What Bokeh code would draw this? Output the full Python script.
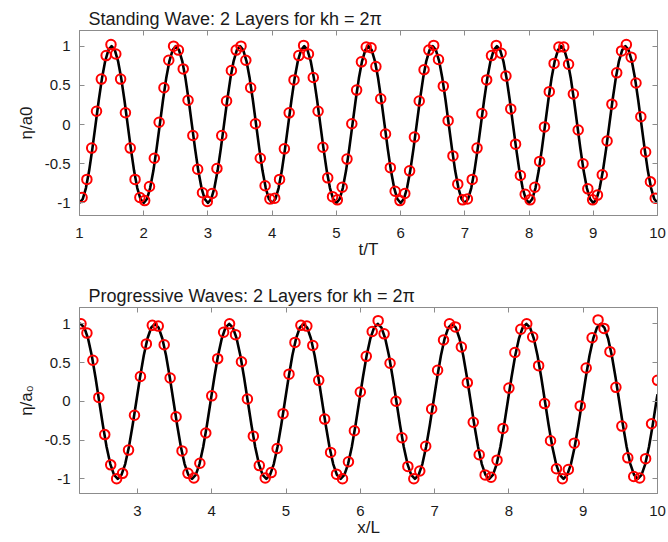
from bokeh.plotting import figure
from bokeh.layouts import column
from bokeh.models import LinearAxis, FixedTicker, Range1d, Title
from bokeh.embed import file_html
from bokeh.resources import INLINE

# ---------------- data: standing wave (top) ----------------
T_LINE = [
    1.00, 1.05, 1.10, 1.15, 1.20, 1.25, 1.30, 1.35, 1.40, 1.45, 1.50, 1.55, 1.60, 1.65, 1.70, 1.75, 1.80, 1.85, 1.90, 1.95,
    2.00, 2.05, 2.10, 2.15, 2.20, 2.25, 2.30, 2.35, 2.40, 2.45, 2.50, 2.55, 2.60, 2.65, 2.70, 2.75, 2.80, 2.85, 2.90, 2.95,
    3.00, 3.05, 3.10, 3.15, 3.20, 3.25, 3.30, 3.35, 3.40, 3.45, 3.50, 3.55, 3.60, 3.65, 3.70, 3.75, 3.80, 3.85, 3.90, 3.95,
    4.00, 4.05, 4.10, 4.15, 4.20, 4.25, 4.30, 4.35, 4.40, 4.45, 4.50, 4.55, 4.60, 4.65, 4.70, 4.75, 4.80, 4.85, 4.90, 4.95,
    5.00, 5.05, 5.10, 5.15, 5.20, 5.25, 5.30, 5.35, 5.40, 5.45, 5.50, 5.55, 5.60, 5.65, 5.70, 5.75, 5.80, 5.85, 5.90, 5.95,
    6.00, 6.05, 6.10, 6.15, 6.20, 6.25, 6.30, 6.35, 6.40, 6.45, 6.50, 6.55, 6.60, 6.65, 6.70, 6.75, 6.80, 6.85, 6.90, 6.95,
    7.00, 7.05, 7.10, 7.15, 7.20, 7.25, 7.30, 7.35, 7.40, 7.45, 7.50, 7.55, 7.60, 7.65, 7.70, 7.75, 7.80, 7.85, 7.90, 7.95,
    8.00, 8.05, 8.10, 8.15, 8.20, 8.25, 8.30, 8.35, 8.40, 8.45, 8.50, 8.55, 8.60, 8.65, 8.70, 8.75, 8.80, 8.85, 8.90, 8.95,
    9.00, 9.05, 9.10, 9.15, 9.20, 9.25, 9.30, 9.35, 9.40, 9.45, 9.50, 9.55, 9.60, 9.65, 9.70, 9.75, 9.80, 9.85, 9.90, 9.95,
    10.00,
]
ETA_STANDING_LINE = [
    -1.00, -0.95, -0.81, -0.59, -0.31, 0.00, 0.31, 0.59, 0.81, 0.95, 1.00, 0.95, 0.81, 0.59, 0.31, 0.00, -0.31, -0.59, -0.81, -0.95,
    -1.00, -0.95, -0.81, -0.59, -0.31, 0.00, 0.31, 0.59, 0.81, 0.95, 1.00, 0.95, 0.81, 0.59, 0.31, 0.00, -0.31, -0.59, -0.81, -0.95,
    -1.00, -0.95, -0.81, -0.59, -0.31, 0.00, 0.31, 0.59, 0.81, 0.95, 1.00, 0.95, 0.81, 0.59, 0.31, 0.00, -0.31, -0.59, -0.81, -0.95,
    -1.00, -0.95, -0.81, -0.59, -0.31, 0.00, 0.31, 0.59, 0.81, 0.95, 1.00, 0.95, 0.81, 0.59, 0.31, 0.00, -0.31, -0.59, -0.81, -0.95,
    -1.00, -0.95, -0.81, -0.59, -0.31, 0.00, 0.31, 0.59, 0.81, 0.95, 1.00, 0.95, 0.81, 0.59, 0.31, 0.00, -0.31, -0.59, -0.81, -0.95,
    -1.00, -0.95, -0.81, -0.59, -0.31, 0.00, 0.31, 0.59, 0.81, 0.95, 1.00, 0.95, 0.81, 0.59, 0.31, 0.00, -0.31, -0.59, -0.81, -0.95,
    -1.00, -0.95, -0.81, -0.59, -0.31, 0.00, 0.31, 0.59, 0.81, 0.95, 1.00, 0.95, 0.81, 0.59, 0.31, 0.00, -0.31, -0.59, -0.81, -0.95,
    -1.00, -0.95, -0.81, -0.59, -0.31, 0.00, 0.31, 0.59, 0.81, 0.95, 1.00, 0.95, 0.81, 0.59, 0.31, 0.00, -0.31, -0.59, -0.81, -0.95,
    -1.00, -0.95, -0.81, -0.59, -0.31, 0.00, 0.31, 0.59, 0.81, 0.95, 1.00, 0.95, 0.81, 0.59, 0.31, 0.00, -0.31, -0.59, -0.81, -0.95,
    -1.00,
]
T_PTS = [
    1.04, 1.115, 1.19, 1.265, 1.34, 1.415, 1.49, 1.565, 1.64, 1.715, 1.79, 1.865, 1.94, 2.015, 2.09, 2.165, 2.24, 2.315, 2.39, 2.465,
    2.54, 2.615, 2.69, 2.765, 2.84, 2.915, 2.99, 3.065, 3.14, 3.215, 3.29, 3.365, 3.44, 3.515, 3.59, 3.665, 3.74, 3.815, 3.89, 3.965,
    4.04, 4.115, 4.19, 4.265, 4.34, 4.415, 4.49, 4.565, 4.64, 4.715, 4.79, 4.865, 4.94, 5.015, 5.09, 5.165, 5.24, 5.315, 5.39, 5.465,
    5.54, 5.615, 5.69, 5.765, 5.84, 5.915, 5.99, 6.065, 6.14, 6.215, 6.29, 6.365, 6.44, 6.515, 6.59, 6.665, 6.74, 6.815, 6.89, 6.965,
    7.04, 7.115, 7.19, 7.265, 7.34, 7.415, 7.49, 7.565, 7.64, 7.715, 7.79, 7.865, 7.94, 8.015, 8.09, 8.165, 8.24, 8.315, 8.39, 8.465,
    8.54, 8.615, 8.69, 8.765, 8.84, 8.915, 8.99, 9.065, 9.14, 9.215, 9.29, 9.365, 9.44, 9.515, 9.59, 9.665, 9.74, 9.815, 9.89, 9.965,
]
ETA_STANDING_PTS = [
    -0.93, -0.70, -0.30, 0.17, 0.58, 0.88, 1.02, 0.90, 0.58, 0.15, -0.30, -0.70, -0.93, -0.97, -0.79, -0.43, 0.03, 0.47, 0.82, 1.00,
    0.95, 0.71, 0.31, -0.14, -0.57, -0.87, -0.98, -0.88, -0.56, -0.14, 0.30, 0.69, 0.95, 1.00, 0.82, 0.47, 0.01, -0.43, -0.78, -0.95,
    -0.94, -0.70, -0.31, 0.15, 0.57, 0.88, 1.01, 0.90, 0.60, 0.17, -0.29, -0.68, -0.92, -0.96, -0.80, -0.44, 0.01, 0.44, 0.80, 0.99,
    0.98, 0.74, 0.33, -0.12, -0.55, -0.85, -0.97, -0.88, -0.59, -0.16, 0.30, 0.70, 0.95, 1.01, 0.83, 0.49, 0.05, -0.40, -0.76, -0.96,
    -0.95, -0.70, -0.30, 0.14, 0.57, 0.88, 1.01, 0.91, 0.62, 0.20, -0.25, -0.65, -0.89, -0.96, -0.80, -0.47, -0.03, 0.42, 0.78, 0.99,
    0.99, 0.77, 0.39, -0.07, -0.50, -0.82, -0.96, -0.90, -0.64, -0.21, 0.26, 0.66, 0.94, 1.02, 0.86, 0.53, 0.10, -0.35, -0.73, -0.94,
]

# ---------------- data: progressive waves (bottom) ----------------
X_LINE = [
    2.22,
    2.235, 2.285, 2.335, 2.385, 2.435, 2.485, 2.535, 2.585, 2.635, 2.685, 2.735, 2.785, 2.835, 2.885, 2.935, 2.985, 3.035, 3.085, 3.135, 3.185,
    3.235, 3.285, 3.335, 3.385, 3.435, 3.485, 3.535, 3.585, 3.635, 3.685, 3.735, 3.785, 3.835, 3.885, 3.935, 3.985, 4.035, 4.085, 4.135, 4.185,
    4.235, 4.285, 4.335, 4.385, 4.435, 4.485, 4.535, 4.585, 4.635, 4.685, 4.735, 4.785, 4.835, 4.885, 4.935, 4.985, 5.035, 5.085, 5.135, 5.185,
    5.235, 5.285, 5.335, 5.385, 5.435, 5.485, 5.535, 5.585, 5.635, 5.685, 5.735, 5.785, 5.835, 5.885, 5.935, 5.985, 6.035, 6.085, 6.135, 6.185,
    6.235, 6.285, 6.335, 6.385, 6.435, 6.485, 6.535, 6.585, 6.635, 6.685, 6.735, 6.785, 6.835, 6.885, 6.935, 6.985, 7.035, 7.085, 7.135, 7.185,
    7.235, 7.285, 7.335, 7.385, 7.435, 7.485, 7.535, 7.585, 7.635, 7.685, 7.735, 7.785, 7.835, 7.885, 7.935, 7.985, 8.035, 8.085, 8.135, 8.185,
    8.235, 8.285, 8.335, 8.385, 8.435, 8.485, 8.535, 8.585, 8.635, 8.685, 8.735, 8.785, 8.835, 8.885, 8.935, 8.985, 9.035, 9.085, 9.135, 9.185,
    9.235, 9.285, 9.335, 9.385, 9.435, 9.485, 9.535, 9.585, 9.635, 9.685, 9.735, 9.785, 9.835, 9.885, 9.935, 9.985,
    10.00,
]
ETA_PROGRESSIVE_LINE = [
    1.00,
    1.00, 0.95, 0.81, 0.59, 0.31, 0.00, -0.31, -0.59, -0.81, -0.95, -1.00, -0.95, -0.81, -0.59, -0.31, 0.00, 0.31, 0.59, 0.81, 0.95,
    1.00, 0.95, 0.81, 0.59, 0.31, 0.00, -0.31, -0.59, -0.81, -0.95, -1.00, -0.95, -0.81, -0.59, -0.31, 0.00, 0.31, 0.59, 0.81, 0.95,
    1.00, 0.95, 0.81, 0.59, 0.31, 0.00, -0.31, -0.59, -0.81, -0.95, -1.00, -0.95, -0.81, -0.59, -0.31, 0.00, 0.31, 0.59, 0.81, 0.95,
    1.00, 0.95, 0.81, 0.59, 0.31, 0.00, -0.31, -0.59, -0.81, -0.95, -1.00, -0.95, -0.81, -0.59, -0.31, 0.00, 0.31, 0.59, 0.81, 0.95,
    1.00, 0.95, 0.81, 0.59, 0.31, 0.00, -0.31, -0.59, -0.81, -0.95, -1.00, -0.95, -0.81, -0.59, -0.31, 0.00, 0.31, 0.59, 0.81, 0.95,
    1.00, 0.95, 0.81, 0.59, 0.31, 0.00, -0.31, -0.59, -0.81, -0.95, -1.00, -0.95, -0.81, -0.59, -0.31, 0.00, 0.31, 0.59, 0.81, 0.95,
    1.00, 0.95, 0.81, 0.59, 0.31, 0.00, -0.31, -0.59, -0.81, -0.95, -1.00, -0.95, -0.81, -0.59, -0.31, 0.00, 0.31, 0.59, 0.81, 0.95,
    1.00, 0.95, 0.81, 0.59, 0.31, 0.00, -0.31, -0.59, -0.81, -0.95, -1.00, -0.95, -0.81, -0.59, -0.31, 0.00,
    0.09,
]
X_PTS = [
    2.24, 2.32, 2.40, 2.48, 2.56, 2.64, 2.72, 2.80, 2.88, 2.96, 3.04, 3.12, 3.20, 3.28, 3.36, 3.44, 3.52, 3.60, 3.68, 3.76, 3.84, 3.92, 4.00, 4.08, 4.16,
    4.24, 4.32, 4.40, 4.48, 4.56, 4.64, 4.72, 4.80, 4.88, 4.96, 5.04, 5.12, 5.20, 5.28, 5.36, 5.44, 5.52, 5.60, 5.68, 5.76, 5.84, 5.92, 6.00, 6.08, 6.16,
    6.24, 6.32, 6.40, 6.48, 6.56, 6.64, 6.72, 6.80, 6.88, 6.96, 7.04, 7.12, 7.20, 7.28, 7.36, 7.44, 7.52, 7.60, 7.68, 7.76, 7.84, 7.92, 8.00, 8.08, 8.16,
    8.24, 8.32, 8.40, 8.48, 8.56, 8.64, 8.72, 8.80, 8.88, 8.96, 9.04, 9.12, 9.20, 9.28, 9.36, 9.44, 9.52, 9.60, 9.68, 9.76, 9.84, 9.92, 10.00,
]
ETA_PROGRESSIVE_PTS = [
    1.00, 0.88, 0.53, 0.05, -0.43, -0.82, -1.00, -0.93, -0.63, -0.18, 0.32, 0.74, 0.98, 0.97, 0.73, 0.30, -0.20, -0.64, -0.93, -0.99, -0.80, -0.41, 0.07, 0.55, 0.89,
    1.00, 0.86, 0.51, 0.03, -0.45, -0.83, -0.99, -0.92, -0.61, -0.16, 0.35, 0.76, 0.98, 0.97, 0.72, 0.27, -0.23, -0.66, -0.94, -1.00, -0.78, -0.38, 0.12, 0.58, 0.90,
    1.04, 0.87, 0.49, 0.00, -0.47, -0.84, -1.00, -0.90, -0.58, -0.10, 0.40, 0.79, 1.00, 0.96, 0.70, 0.24, -0.27, -0.69, -0.95, -0.98, -0.76, -0.35, 0.17, 0.63, 0.93,
    1.00, 0.83, 0.46, -0.03, -0.51, -0.87, -1.00, -0.88, -0.54, -0.06, 0.43, 0.82, 1.05, 0.94, 0.64, 0.18, -0.32, -0.73, -0.97, -0.99, -0.74, -0.29, 0.27,
]

X_TICKS_TOP = [1, 2, 3, 4, 5, 6, 7, 8, 9, 10]
X_TICKS_BOTTOM = [3, 4, 5, 6, 7, 8, 9, 10]
Y_TICKS = [-1, -0.5, 0, 0.5, 1]
Y_TICK_LABELS = {-1: "-1", -0.5: "-0.5", 0: "0", 0.5: "0.5", 1: "1"}

FONT = "Liberation Sans"
FRAME = "#8c8c8c"
TXT = "#1a1a1a"


def make(title, xr, yr, xticks, xlabel, ylabel, height, btop, bbot):
    p = figure(width=668, height=height, x_range=Range1d(*xr), y_range=Range1d(*yr),
               output_backend="svg", toolbar_location=None,
               min_border_left=79, min_border_right=11,
               min_border_top=btop, min_border_bottom=bbot)
    p.title = Title(text=title, text_font=FONT, text_font_size="18px",
                    text_font_style="normal", text_color=TXT, offset=9, standoff=4)
    p.xgrid.visible = False
    p.ygrid.visible = False
    p.outline_line_color = FRAME
    p.outline_line_width = 1

    p.xaxis.ticker = FixedTicker(ticks=xticks)
    p.yaxis.ticker = FixedTicker(ticks=Y_TICKS)
    p.yaxis.major_label_overrides = Y_TICK_LABELS
    p.xaxis.axis_label = xlabel
    p.yaxis.axis_label = ylabel
    for ax in (p.xaxis[0], p.yaxis[0]):
        ax.axis_line_color = FRAME
        ax.major_tick_line_color = FRAME
        ax.major_tick_in = 5
        ax.major_tick_out = 0
        ax.minor_tick_line_color = None
        ax.major_label_text_font = FONT
        ax.major_label_text_font_size = "15px"
        ax.major_label_text_color = TXT
        ax.axis_label_text_font = FONT
        ax.axis_label_text_font_size = "17px"
        ax.axis_label_text_font_style = "normal"
        ax.axis_label_text_color = TXT
    p.xaxis.major_label_standoff = 12
    p.xaxis.axis_label_standoff = -1
    p.yaxis.major_label_standoff = 9
    p.yaxis.axis_label_standoff = 6

    # mirrored inward ticks on the top and right edges (box style)
    for loc, ticks in (("above", xticks), ("right", Y_TICKS)):
        ax = LinearAxis(ticker=FixedTicker(ticks=ticks), major_tick_in=5, major_tick_out=0,
                        minor_tick_line_color=None, axis_line_color=FRAME,
                        major_tick_line_color=FRAME, major_label_text_font_size="0px",
                        major_label_text_color=None, major_label_standoff=0)
        p.add_layout(ax, loc)
    return p


p1 = make("Standing Wave: 2 Layers for kh = 2\u03c0", (1, 10), (-1.16, 1.2), X_TICKS_TOP,
          "t/T", "\u03b7/a0", 276, 30, 61)
p1.line(T_LINE, ETA_STANDING_LINE, line_color="black", line_width=2.6, line_join="round")
p1.scatter(T_PTS, ETA_STANDING_PTS, marker="circle", size=9.5, fill_color=None,
           line_color="#ff0000", line_width=2)

p2 = make("Progressive Waves: 2 Layers for kh = 2\u03c0", (2.22, 10), (-1.19, 1.21), X_TICKS_BOTTOM,
          "x/L", "\u03b7/a\u2080", 266, 31, 49)
p2.line(X_LINE, ETA_PROGRESSIVE_LINE, line_color="black", line_width=2.6, line_join="round")
p2.scatter(X_PTS, ETA_PROGRESSIVE_PTS, marker="circle", size=9.5, fill_color=None,
           line_color="#ff0000", line_width=2)

layout = column(p1, p2, spacing=0)
open("out.html", "w").write(file_html(layout, INLINE))
